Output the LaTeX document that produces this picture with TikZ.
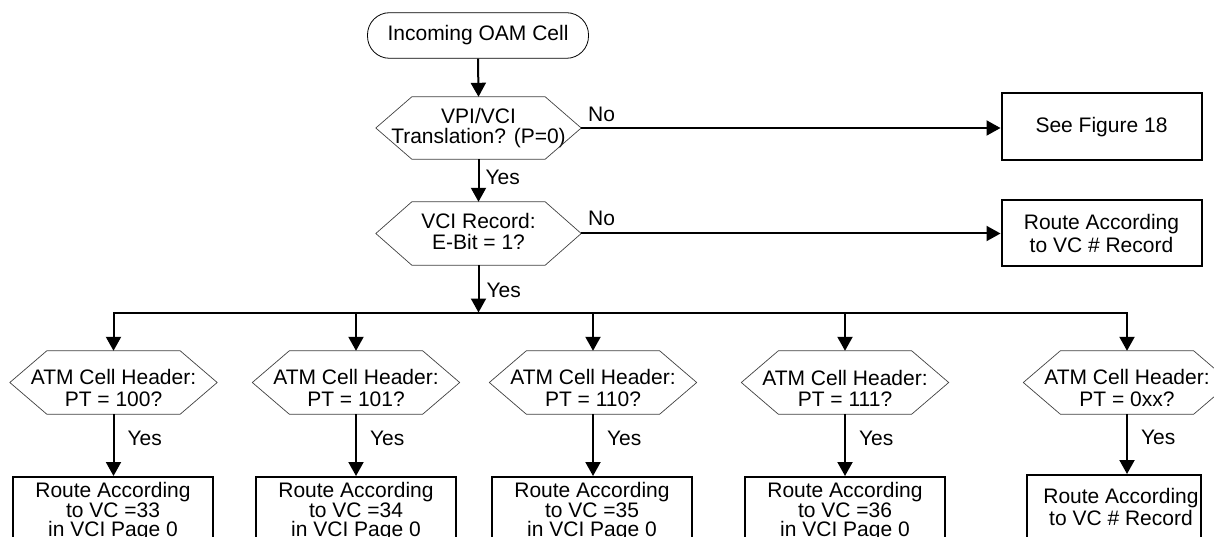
\documentclass[tikz,border=0pt]{standalone}
\usepackage{fontspec}
\setmainfont{Liberation Sans}
\usetikzlibrary{arrows.meta}
\newcommand\hexout[2]{%
  \draw[hexline] (#1.west) -- ([xshift=#2]#1.north west) -- ([xshift=-#2]#1.north east)
    -- (#1.east) -- ([xshift=-#2]#1.south east) -- ([xshift=#2]#1.south west) -- cycle;}
\newcommand\lowstrut{\rule{0pt}{26.7pt}}
\tikzset{
  txt/.style={font=\fontsize{21}{#1}\selectfont},
  txt/.default=21.5pt,
  term/.style={draw, line width=0.8pt, rounded corners=22pt, minimum width=221pt,
    minimum height=45.6pt, inner sep=0pt, txt},
  hexbox/.style={minimum width=205pt, minimum height=63pt, inner sep=0pt, align=center},
  hexline/.style={draw=black!75, line width=0.7pt},
  procbox/.style={draw, line width=2pt, align=center, inner xsep=0pt},
  routebox/.style={procbox, anchor=north, minimum width=200pt, inner ysep=5.5pt, txt=18.3pt, text depth=6pt},
  lbl/.style={txt, inner sep=0pt},
  wire/.style={line width=2pt},
  flow/.style={wire, -{Triangle[length=14pt,width=15pt]}},
}
\begin{document}
\begin{tikzpicture}[x=1pt,y=-1pt]
\useasboundingbox (0,0) rectangle (1214,537);

% top column
\node[term] (start) at (478,35.5) {Incoming OAM Cell};
\node[hexbox, minimum height=62pt, txt=20pt] (d1) at (478.5,128) {VPI/VCI\\Translation? (P=0)};
\node[hexbox, txt=21pt, text depth=4pt] (d2) at (478.5,233.5) {VCI Record:\\E-Bit = 1?};
\hexout{d1}{36pt}
\hexout{d2}{36pt}

% right side boxes
\node[procbox, minimum width=200pt, minimum height=67pt, txt] (fig) at (1101.5,127) {See Figure 18};
\node[procbox, minimum width=200pt, minimum height=66pt, txt=23.4pt] (rvc) at (1101.5,233.3) {Route According\\to VC \# Record};

% branch point
\coordinate (br) at (478.5,312.5);

% bottom decisions
\foreach \n/\x/\v in {e1/113.5/100, e2/356/101, e3/593/110, e4/845/111, e5/1127/0xx}{
  \node[hexbox, minimum width=207pt, txt=21.7pt]
    (\n) at (\x,382.5) {\lowstrut ATM Cell Header:\\PT = \v?};
  \hexout{\n}{37pt}
}

% bottom boxes
\node[routebox] (r1) at (113,476) {Route According\\to VC =33\\in VCI Page 0};
\node[routebox] (r2) at (356,476) {Route According\\to VC =34\\in VCI Page 0};
\node[routebox] (r3) at (592,476) {Route According\\to VC =35\\in VCI Page 0};
\node[routebox] (r4) at (845,476) {Route According\\to VC =36\\in VCI Page 0};
\node[routebox, minimum width=174pt, inner ysep=13.5pt, txt=22pt] (r5) at (1114,474)
  {\hspace*{14pt}Route According\\\hspace*{14pt}to VC \# Record};

% connectors
\draw[flow] (start.south) -- (d1.north);
\draw[flow] (d1.south) -- node[lbl, anchor=west, xshift=6pt, yshift=3pt] {Yes} (d2.north);
\draw[flow] (d1.east) -- node[lbl, pos=0, anchor=south west, xshift=6pt, yshift=5pt] {No} (d1.east -| fig.west);
\draw[flow] (d2.east) -- node[lbl, pos=0, anchor=south west, xshift=6pt, yshift=6.5pt] {No} (d2.east -| rvc.west);
\draw[flow] (d2.south) -- node[lbl, anchor=west, xshift=7pt, yshift=-2pt] {Yes} (br);
\draw[flow] (br) -| (e1.north);
\draw[flow] (br) -| (e5.north);
\draw[flow] (br -| e2.north) -- (e2.north);
\draw[flow] (br -| e3.north) -- (e3.north);
\draw[flow] (br -| e4.north) -- (e4.north);
\foreach \i in {1,...,5}{
  \draw[flow] (e\i.south) -- node[lbl, anchor=west, xshift=13pt, yshift=7pt] {Yes} (e\i.south |- r\i.north);
}
\end{tikzpicture}
\end{document}
